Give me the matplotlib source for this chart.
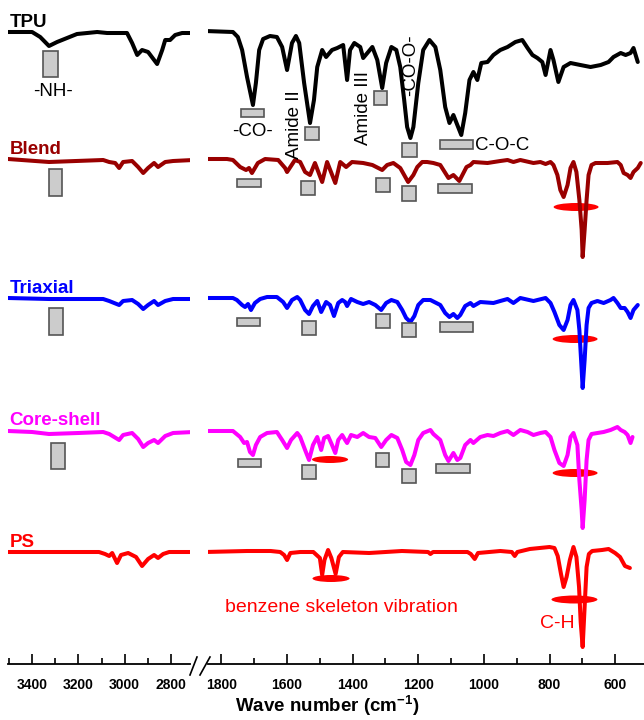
"""FTIR spectra of TPU, PS and their fibres (broken wavenumber axis)."""
import matplotlib
matplotlib.use("Agg")
import numpy as np
import matplotlib.pyplot as plt
from matplotlib.patches import Rectangle, Ellipse
from matplotlib.lines import Line2D

plt.rcParams["font.family"] = ["Liberation Sans", "DejaVu Sans"]
plt.rcParams["mathtext.fontset"] = "custom"
plt.rcParams["mathtext.rm"] = "Liberation Sans"
plt.rcParams["mathtext.bf"] = "Liberation Sans:bold"

# ---- spectra (wavenumber cm-1, transmittance relative to own baseline) ----
tpu_wn = [3504, 3400, 3365, 3327, 3292, 3249, 3206, 3162, 3119, 3076, 3033, 2990, 2968, 2946,
          2925, 2899, 2860, 2838, 2825, 2804, 2782, 2752, 2704,
          1850, 1765, 1750, 1737, 1722, 1704, 1695, 1685, 1673, 1652, 1631, 1615, 1600, 1585,
          1573, 1563, 1548, 1530, 1518, 1508, 1493, 1481, 1463, 1447, 1429, 1417, 1408, 1395,
          1377, 1368, 1340, 1325, 1310, 1298, 1282, 1267, 1255, 1243, 1234, 1224, 1215, 1200,
          1185, 1166, 1148, 1133, 1118, 1105, 1093, 1081, 1069, 1057, 1044, 1032, 1020, 1008,
          989, 971, 950, 928, 904, 883, 867, 852, 837, 822, 812, 797, 788, 773, 757, 736, 706,
          675, 644, 620, 605, 583, 568, 553, 544, 531]
tpu_t = [0, 0, -5, -14, -10, -6, -2, -1, 0, -1, -1, -1, -11, -23,
         -18, -20, -32, -18, -8, -8, -3, -1, -1,
         1, 0, -5, -18, -45, -73, -51, -18, -7, -4, -5, -15, -38, -11,
         -4, -11, -51, -91, -68, -35, -18, -25, -18, -16, -13, -48, -18, -11,
         -15, -26, -15, -28, -56, -31, -15, -18, -35, -68, -95, -106, -95, -51,
         -18, -8, -15, -38, -75, -91, -83, -93, -103, -81, -48, -40, -48, -31,
         -30, -23, -18, -15, -10, -8, -16, -23, -26, -30, -43, -18, -28, -50, -35, -31, -33,
         -35, -33, -30, -25, -21, -23, -21, -16, -30]

blend_wn = [3504, 3327, 3093, 3067, 3041, 3024, 3007, 2968, 2942, 2920, 2899, 2873, 2856, 2825,
            2791, 2704,
            1850, 1783, 1765, 1743, 1725, 1716, 1707, 1689, 1667, 1627, 1606, 1600, 1576, 1560,
            1545, 1530, 1515, 1493, 1478, 1453, 1438, 1420, 1402, 1368, 1340, 1310, 1295, 1276,
            1255, 1243, 1231, 1215, 1203, 1188, 1173, 1154, 1133, 1108, 1093, 1075, 1053, 1041,
            1032, 989, 950, 928, 910, 889, 849, 828, 812, 797, 788, 776, 767, 757, 745, 736, 727,
            718, 709, 702, 699, 693, 687, 681, 672, 660, 623, 593, 583, 574, 562, 553, 544, 531,
            522]
blend_t = [0, -3, -1, -3, -4, -9, -3, -2, -8, -14, -9, -4, -8, -3,
           -2, -1,
           0, 0, -1, -8, -11, -9, -14, -4, 0, -1, -9, -13, -1, -3,
           -13, -16, -4, -23, -3, -24, -3, -8, -3, -4, -6, -11, -6, -4,
           -9, -16, -23, -16, -8, -3, -3, -4, -6, -19, -16, -22, -8, -6,
           -3, -4, -2, -1, -3, -1, -4, -3, -5, -3, -6, -16, -31, -38, -26, -9, -3,
           -13, -41, -71, -98, -71, -41, -16, -6, -4, -4, -3, -6, -14, -16, -19, -13, -9,
           -4]

triax_wn = [3504, 3327, 3093, 3067, 3024, 3007, 2968, 2942, 2920, 2899, 2873, 2856, 2825, 2791,
            2704,
            1850, 1765, 1753, 1737, 1728, 1719, 1710, 1698, 1682, 1661, 1631, 1612, 1600, 1585,
            1569, 1560, 1545, 1533, 1521, 1508, 1496, 1481, 1469, 1457, 1444, 1432, 1423, 1417,
            1405, 1386, 1368, 1350, 1331, 1313, 1298, 1282, 1264, 1249, 1237, 1224, 1212, 1200,
            1185, 1163, 1133, 1118, 1105, 1093, 1081, 1072, 1057, 1041, 1032, 1011, 971, 950, 928,
            910, 889, 849, 812, 797, 785, 770, 757, 745, 736, 727, 715, 709, 702, 699, 693, 687,
            681, 672, 654, 635, 614, 605, 593, 583, 571, 562, 553, 544, 531]
triax_t = [0, -1, -1, -3, -7, -3, -2, -6, -11, -7, -3, -7, -3, -1,
           -1,
           0, 0, -2, -7, -9, -6, -12, -5, -1, 1, 1, -4, -10, -2,
           1, -2, -12, -16, -8, -3, -14, -4, -7, -18, -5, -2, -4, -8,
           -1, -4, -6, -4, -7, -12, -5, -2, -4, -12, -20, -24, -18, -7,
           -2, -2, -7, -15, -19, -16, -20, -17, -8, -5, -8, -4, -5, -3, -1,
           -5, 0, -3, 0, -5, -14, -27, -32, -22, -7, -2, -12, -32, -72, -90, -62, -27,
           -10, -5, -3, -5, -2, 0, -5, -10, -10, -14, -20, -12, -7]

core_wn = [3504, 3400, 3327, 3200, 3093, 3067, 3024, 3007, 2968, 2942, 2920, 2899, 2873, 2856,
           2825, 2791, 2704,
           1850, 1765, 1743, 1731, 1722, 1713, 1704, 1695, 1682, 1661, 1631, 1615, 1600, 1588,
           1569, 1560, 1545, 1533, 1521, 1508, 1496, 1487, 1475, 1463, 1453, 1444, 1432, 1423,
           1417, 1405, 1386, 1368, 1350, 1331, 1313, 1298, 1282, 1264, 1249, 1237, 1224, 1212,
           1200, 1185, 1163, 1154, 1133, 1118, 1108, 1093, 1081, 1072, 1057, 1041, 1032, 1011,
           989, 971, 950, 928, 910, 889, 867, 849, 828, 812, 797, 785, 770, 757, 745, 736, 727,
           715, 709, 702, 699, 693, 687, 681, 672, 654, 635, 614, 593, 583, 571, 562, 553, 547]
core_t = [0, -1, -3, -2, -1, -3, -9, -4, -2, -8, -16, -12, -9, -12,
          -5, -2, -1,
          0, 0, -6, -12, -11, -21, -24, -14, -6, -2, -1, -9, -17, -9,
          -2, -6, -19, -29, -14, -6, -19, -7, -5, -14, -22, -9, -4, -9,
          -12, -4, -6, -2, -6, -7, -16, -9, -4, -7, -19, -31, -34, -24,
          -9, -2, 1, -3, -9, -24, -30, -22, -29, -27, -14, -9, -12, -6,
          -4, -5, -2, 0, -4, 1, -1, -4, -2, -1, -6, -19, -32, -35, -24, -6, -2,
          -14, -49, -79, -97, -69, -29, -9, -3, -2, -1, 1, 4, 1, -1, -4, -12, -6]

ps_wn = [3504, 3111, 3085, 3067, 3054, 3033, 3016, 2985, 2951, 2925, 2899, 2873, 2856, 2834,
         2808, 2704,
         1850, 1722, 1650, 1621, 1609, 1600, 1590, 1560, 1520, 1500, 1493, 1486, 1475, 1465,
         1452, 1442, 1430, 1350, 1250, 1170, 1163, 1155, 1050, 1040, 1028, 1018, 950, 915, 906,
         898, 860, 800, 785, 775, 765, 757, 748, 738, 727, 718, 710, 705, 699, 693, 687, 680,
         670, 640, 620, 600, 585, 570, 555]
ps_t = [0, 0, -2, -4, -1, -11, -3, -1, -5, -14, -7, -3, -6, -2,
        0, 0,
        0, 1, 1, 0, -3, -8, -1, 0, 0, -6, -23, -8, 2, -6,
        -22, -5, 0, -1, 1, 0, -2, 0, 0, -2, -7, -1, 1, 0, -4,
        0, 3, 5, 4, -4, -22, -35, -25, -8, 5, -5, -35, -70, -95, -55, -15, -2,
        1, 2, 3, -1, -5, -14, -16]

samples = ["TPU", "Blend", "Triaxial", "Core-shell", "PS"]
spectra_wn = [tpu_wn, blend_wn, triax_wn, core_wn, ps_wn]
spectra_t = [tpu_t, blend_t, triax_t, core_t, ps_t]
offsets = [632, 505, 366, 233, 112]
label_y = [637, 510, 371, 239, 117]
colors = ["black", "#990000", "#0000ff", "#ff00ff", "#ff0000"]

W, H = 644, 720
fig = plt.figure(figsize=(W / 100, H / 100), dpi=100)


def px_axes(x0, x1):
    return fig.add_axes([x0 / W, 56 / H, (x1 - x0) / W, 664 / H])


ax_l = px_axes(8, 190)
ax_r = px_axes(208, 644)
ax_l.set_xlim(3504, 2718)
ax_r.set_xlim(1841, 512)

for wn, t, off, col in zip(spectra_wn, spectra_t, offsets, colors):
    wn = np.asarray(wn, float)
    y = np.asarray(t, float) + off
    hi = wn > 2000
    for ax, m in ((ax_l, hi), (ax_r, ~hi)):
        ax.plot(wn[m], y[m], color=col, lw=2.9, solid_joinstyle="round",
                solid_capstyle="round", zorder=2)

for name, yy, col in zip(samples, label_y, colors):
    ax_l.text(3497, yy, name, ha="left", va="baseline", fontsize=13.5,
              fontweight="bold", color=col)

# gray band markers
box = dict(facecolor="#cccccc", edgecolor="#555555", lw=1.2, zorder=3)
boxes_l = [(3352, 3287, 587, 613), (3327, 3270, 468, 495), (3327, 3266, 329, 356),
           (3318, 3258, 195, 221)]
boxes_r = [(1740, 1670, 547, 555), (1545, 1502, 524, 537), (1334, 1295, 559, 573),
           (1249, 1203, 507, 521), (1133, 1032, 515, 524),
           (1753, 1679, 477, 485), (1557, 1515, 469, 483), (1328, 1286, 472, 486),
           (1249, 1206, 463, 478), (1139, 1035, 471, 480),
           (1753, 1682, 338, 346), (1554, 1511, 329, 343), (1328, 1286, 336, 350),
           (1249, 1206, 327, 341), (1133, 1032, 332, 342),
           (1750, 1679, 197, 205), (1554, 1511, 185, 199), (1328, 1289, 197, 211),
           (1249, 1206, 181, 195), (1145, 1041, 191, 200)]
for ax, boxes in ((ax_l, boxes_l), (ax_r, boxes_r)):
    for a, b, y0, y1 in boxes:
        ax.add_patch(Rectangle((b, y0), a - b, y1 - y0, **box))

# red PS markers
for xc, yc, w, h in [(719, 457, 137, 8), (722, 325, 137, 8), (722, 191, 137, 8),
                     (1469, 204.5, 110, 7), (1466, 85.5, 113, 7), (724, 64.5, 140, 8)]:
    ax_r.add_patch(Ellipse((xc, yc), w, h, color="#ff0000", lw=0, zorder=1.5))

txt = dict(fontsize=13.5, color="black", ha="center", va="center")
ax_l.text(3309, 573, "-NH-", **txt)
ax_r.text(1704, 533, "-CO-", **txt)
ax_r.text(1576, 539, "Amide II", rotation=90, **txt)
ax_r.text(1368, 556, "Amide III", rotation=90, **txt)
ax_r.text(1224, 599, "-CO-O-", rotation=90, **txt)
ax_r.text(1028, 518, "C-O-C", fontsize=13.5, ha="left", va="center")
ax_r.text(1435, 57, "benzene skeleton vibration", fontsize=14, color="#ff0000",
          ha="center", va="center")
ax_r.text(776, 40, "C-H", fontsize=14, color="#ff0000", ha="center", va="center")

for ax, major, minor in ((ax_l, [3400, 3200, 3000, 2800], [3500, 3300, 3100, 2900]),
                         (ax_r, list(range(1800, 599, -200)), list(range(1700, 599, -200)))):
    ax.set_ylim(0, 664)
    ax.set_yticks([])
    ax.set_xticks(major)
    ax.set_xticks(minor, minor=True)
    ax.tick_params(axis="x", which="major", direction="in", length=7, width=1.2,
                   pad=10, labelsize=10)
    ax.tick_params(axis="x", which="minor", direction="in", length=4, width=1.2)
    for lbl in ax.get_xticklabels():
        lbl.set_fontweight("bold")
    for s in ("left", "right", "top"):
        ax.spines[s].set_visible(False)
    ax.spines["bottom"].set_linewidth(1.3)
    ax.patch.set_alpha(0)

# axis break marks
for x0, x1 in ((190, 197), (200, 210)):
    fig.add_artist(Line2D([x0 / W, x1 / W], [1 - 675 / H, 1 - 657 / H], color="black", lw=1.2))

fig.text(327 / W, 1 - 706 / H, r"Wave number (cm$^{\mathbf{-1}}$)", ha="center", va="center",
         fontsize=13.5, fontweight="bold")

fig.savefig("out.png", dpi=100)
plt.close(fig)
